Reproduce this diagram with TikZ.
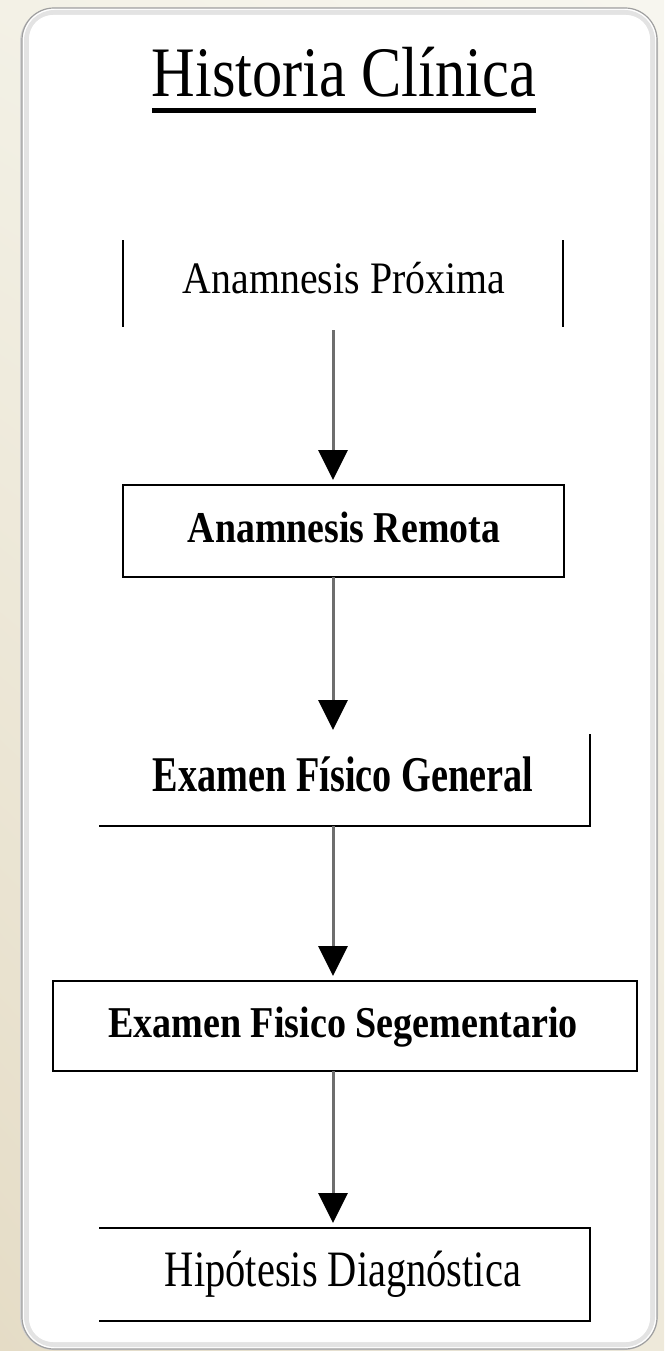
\documentclass[tikz,border=0pt]{standalone}
\usepackage{fontspec}
\setmainfont{Liberation Serif}
\usepackage{graphicx}
\usetikzlibrary{arrows.meta,shadings}
\definecolor{bgA}{HTML}{E5DCC6}
\definecolor{bgB}{HTML}{F3F1E6}
\definecolor{bgC}{HTML}{F7F6EF}
\definecolor{bgD}{HTML}{EEE9DA}
\definecolor{conngray}{HTML}{6E6E6E}
\tikzset{
  frame/.style={inner sep=0pt, outer sep=0pt, draw=none},
  border/.style={line width=2.5pt, black, line cap=rect},
  lbl/.style={inner sep=0pt, outer sep=0pt, anchor=base, text=black},
  conn/.style={line width=3pt, draw=conngray, -{Triangle[width=29pt,length=30pt,color=black]}, shorten >=5pt},
}
\newcommand{\fitw}[2]{\resizebox{#1}{\height}{#2}}
\begin{document}
\begin{tikzpicture}[x=1pt,y=-1pt]
\useasboundingbox (0,0) rectangle (664,1351);
% background
\shade[lower left=bgA, upper left=bgB, upper right=bgC, lower right=bgD] (0,0) rectangle (664,1351);
% panel
\fill[gray!35, rounded corners=34pt] (20,8) rectangle (658,1350);
\filldraw[fill=white, draw=gray!75, line width=1.2pt, rounded corners=32pt] (22,8) rectangle (657,1349);
\draw[gray!22, line width=5pt, rounded corners=28pt] (26.5,12.5) rectangle (652.5,1344.5);
\fill[white, rounded corners=24pt] (29,15) rectangle (650,1342);

% title
\node[lbl] (title) at (344,97) {\fontsize{71pt}{71pt}\selectfont\fitw{384pt}{Historia Clínica}};
\draw[line width=5pt, black] ([yshift=-14pt]title.base west) -- ([yshift=-14pt]title.base east);

% frames
\node[frame, minimum width=440pt, minimum height=87pt] (b1) at (343,283.5) {};
\node[frame, minimum width=441pt, minimum height=92pt] (b2) at (343.5,531) {};
\node[frame, minimum width=490pt, minimum height=91pt] (b3) at (345,780.5) {};
\node[frame, minimum width=584pt, minimum height=90pt] (b4) at (345,1026) {};
\node[frame, minimum width=490pt, minimum height=93pt] (b5) at (345,1274.5) {};

\draw[line width=2pt, black] (b1.north west) -- (b1.south west);
\draw[line width=2pt, black] (b1.north east) -- (b1.south east);
\draw[border] (b2.north west) rectangle (b2.south east);
\draw[border] (b3.north east) -- (b3.south east) -- (b3.south west);
\draw[border] (b4.north west) rectangle (b4.south east);
\draw[border] (b5.north west) -- (b5.north east) -- (b5.south east) -- (b5.south west);

% labels
\node[lbl] (t1) at (344,293) {\fontsize{45pt}{45pt}\selectfont\fitw{322pt}{Anamnesis Próxima}};
\node[lbl] (t2) at (344,542) {\fontsize{44pt}{44pt}\selectfont\bfseries\fitw{312pt}{Anamnesis Remota}};
\node[lbl] (t3) at (343,791) {\fontsize{50pt}{50pt}\selectfont\bfseries\fitw{380pt}{Examen Físico General}};
\node[lbl] (t4) at (343,1037) {\fontsize{44pt}{44pt}\selectfont\bfseries\fitw{470pt}{Examen Fisico Segementario}};
\node[lbl] (t5) at (343,1286) {\fontsize{51pt}{51pt}\selectfont\fitw{356pt}{Hipótesis Diagnóstica}};

% connectors
\coordinate (ax) at (333,0);
\draw[conn, shorten <=3pt] (b1.south -| ax) -- (b2.north -| ax);
\draw[conn] (b2.south -| ax) -- (b3.north -| ax);
\draw[conn] (b3.south -| ax) -- (b4.north -| ax);
\draw[conn] (b4.south -| ax) -- (b5.north -| ax);
\end{tikzpicture}
\end{document}
